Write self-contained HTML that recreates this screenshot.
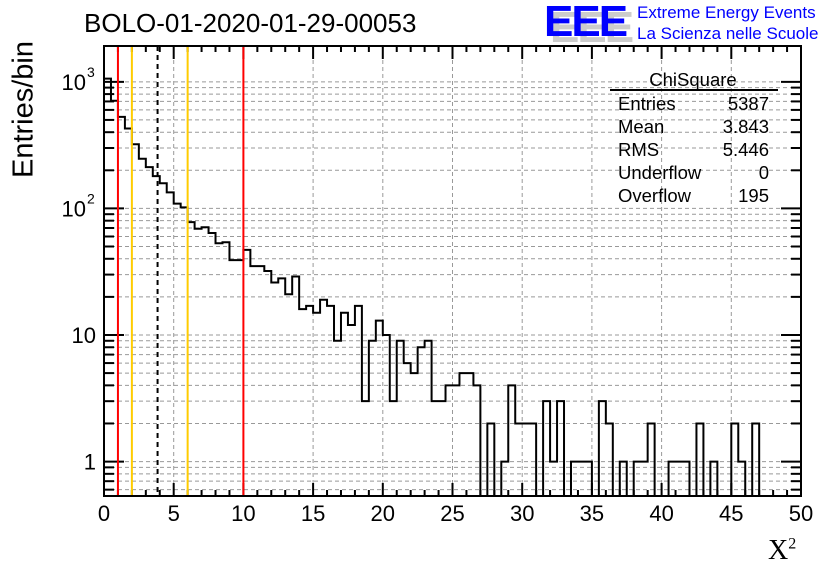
<!DOCTYPE html>
<html><head><meta charset="utf-8"><style>
html,body{margin:0;padding:0;background:#fff;}
svg{display:block;font-family:"Liberation Sans",sans-serif;}
</style></head><body>
<svg id="chart" width="836" height="572" viewBox="0 0 836 572"></svg>
<script>
const counts=[1060,708,528,428,321,247,212,180,158,134,109,102,78,69,71,64,53,54,39,39,47,35,35,32,26,28,21,29,16,17,15,19,17,9,15,12,17,3,9,13,10,3,9,6,5,8,9,3,3,4,4,5,5,4,0,2,0,1,4,2,2,2,0,3,1,3,0,1,1,1,0,3,2,0,1,0,1,1,2,0,0,1,1,1,0,2,0,1,0,0,2,1,0,2,0,0,0,0,0,0];
const binWidth=0.5;
const xTickLabels=[0,5,10,15,20,25,30,35,40,45,50];
const yDecades=[1,10,100,1000];
const redLines=[1,10];
const yellowLines=[2,6];
const meanLine=[3.843];
const statLabels=["Entries","Mean","RMS","Underflow","Overflow"];
const statValues=["5387","3.843","5.446","0","195"];

const L=104,R=801,T=46,B=496;
const xmin=0,xmax=50,lmin=-0.272,lmax=3.283;
const X=v=>L+(v-xmin)/(xmax-xmin)*(R-L);
const Y=v=>B-(Math.log10(v)-lmin)/(lmax-lmin)*(B-T);
const svg=document.getElementById('chart');
const NS='http://www.w3.org/2000/svg';
function mk(tag,attrs,parent){const e=document.createElementNS(NS,tag);for(const k in attrs)e.setAttribute(k,attrs[k]);(parent||svg).appendChild(e);return e;}

const grid=mk('g',{});


xTickLabels.forEach(v=>{if(v>xmin&&v<xmax)mk('line',{x1:X(v),x2:X(v),y1:T,y2:B,stroke:'#999','stroke-dasharray':'4,3','stroke-width':1},grid);});
yDecades.forEach(d=>{for(let m=1;m<10;m++){const val=d*m;const lv=Math.log10(val);if(lv>lmin&&lv<lmax)mk('line',{x1:L,x2:R,y1:Y(val),y2:Y(val),stroke:'#999','stroke-dasharray':'4,3','stroke-width':1},grid);}});
[0.6,0.7,0.8,0.9].forEach(val=>{mk('line',{x1:L,x2:R,y1:Y(val),y2:Y(val),stroke:'#999','stroke-dasharray':'4,3','stroke-width':1},grid);});

let d='';const floorY=B;
counts.forEach((c,i)=>{const x0=X(i*binWidth),x1=X((i+1)*binWidth);const y=c>0?Y(c):floorY;d+=(i===0?'M'+x0+','+y:'L'+x0+','+y)+'L'+x1+','+y;});
const hist=mk('path',{d:d,fill:'none',stroke:'#000','stroke-width':2});



const xa=mk('g',{});


for(let v=xmin;v<=xmax;v++){const len=v%5===0?13:6;mk('line',{x1:X(v),x2:X(v),y1:B,y2:B-len,stroke:'#000','stroke-width':2},xa);mk('line',{x1:X(v),x2:X(v),y1:T,y2:T+len,stroke:'#000','stroke-width':2},xa);}
xTickLabels.forEach(v=>{const t=mk('text',{x:X(v),y:521,'font-size':22,'text-anchor':'middle'},xa);t.textContent=v;});
const ya=mk('g',{});


yDecades.forEach((dd,k)=>{for(let m=1;m<10;m++){const val=dd*m;const lv=Math.log10(val);if(lv<lmin||lv>lmax)continue;const len=m===1?20:10;mk('line',{x1:L,x2:L+len,y1:Y(val),y2:Y(val),stroke:'#000','stroke-width':2},ya);mk('line',{x1:R,x2:R-len,y1:Y(val),y2:Y(val),stroke:'#000','stroke-width':2},ya);}});
[0.6,0.7,0.8,0.9].forEach(val=>{mk('line',{x1:L,x2:L+10,y1:Y(val),y2:Y(val),stroke:'#000','stroke-width':2},ya);mk('line',{x1:R,x2:R-10,y1:Y(val),y2:Y(val),stroke:'#000','stroke-width':2},ya);});
yDecades.forEach((dd,k)=>{const y=Y(dd)+8;if(k===0){const t=mk('text',{x:96,y:y,'font-size':22,'text-anchor':'end'},ya);t.textContent='1';}else if(k===1){const t=mk('text',{x:96,y:y,'font-size':22,'text-anchor':'end'},ya);t.textContent='10';}else{const t=mk('text',{x:86,y:y,'font-size':22,'text-anchor':'end'},ya);t.textContent='10';const s=mk('text',{x:87,y:y-13,'font-size':14,'text-anchor':'start'},ya);s.textContent=String(k);}});

redLines.forEach(v=>{const l=mk('line',{x1:X(v),x2:X(v),y1:T,y2:B,stroke:'#f00','stroke-width':2});

});
yellowLines.forEach(v=>{const l=mk('line',{x1:X(v),x2:X(v),y1:T,y2:B,stroke:'#fc0','stroke-width':2});

});
meanLine.forEach(v=>{const l=mk('line',{x1:X(v),x2:X(v),y1:T,y2:B,stroke:'#000','stroke-width':2,'stroke-dasharray':'5,4'});

});

const frame=mk('rect',{x:L,y:T,width:R-L,height:B-T,fill:'none',stroke:'#000','stroke-width':2});



const st=mk('g',{});


const tt=mk('text',{x:693,y:86,'font-size':18.5,'text-anchor':'middle'},st);tt.textContent='ChiSquare';
mk('line',{x1:610,x2:778,y1:90,y2:90,stroke:'#000','stroke-width':2},st);
statLabels.forEach((s,i)=>{const a=mk('text',{x:618,y:110+i*23,'font-size':18.5},st);a.textContent=s;const b=mk('text',{x:769,y:110+i*23,'font-size':18.5,'text-anchor':'end'},st);b.textContent=statValues[i];});
</script>
<div style="position:absolute;left:84px;top:8px;font:26px 'Liberation Sans',sans-serif;">BOLO-01-2020-01-29-00053</div>
<div style="position:absolute;left:-46px;top:93px;width:140px;transform:rotate(-90deg);font:29px 'Liberation Sans',sans-serif;text-align:center;">Entries/bin</div>
<div style="position:absolute;left:768px;top:535px;font:28px 'Liberation Serif',serif;">X<sup style="font-size:16px;">2</sup></div>
<div style="position:absolute;left:544px;top:2px;">
<div style="position:absolute;left:6px;top:6px;font:bold 44px/40px 'Liberation Sans',sans-serif;color:#ccc;letter-spacing:-2px;">EEE</div>
<div style="position:absolute;left:0;top:0;font:bold 44px/40px 'Liberation Sans',sans-serif;color:#00f;letter-spacing:-2px;">EEE</div>
</div>
<div style="position:absolute;left:637px;top:2px;font:17px/21px 'Liberation Sans',sans-serif;color:#00f;">Extreme Energy Events<br>La Scienza nelle Scuole</div>
</body></html>
